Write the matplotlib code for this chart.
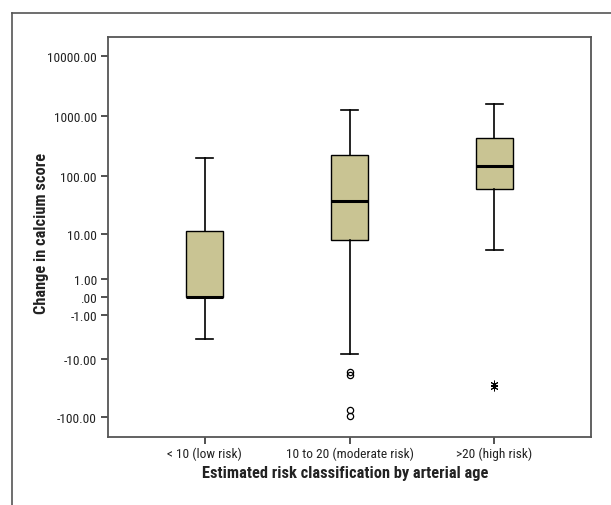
import numpy as np
import matplotlib
matplotlib.use("Agg")
import matplotlib.pyplot as plt
from matplotlib.lines import Line2D
from matplotlib import font_manager
import matplotlib.patheffects as pe

# ---- data ----
categories = ["< 10 (low risk)", "10 to 20 (moderate risk)", ">20 (high risk)"]
whisker_low = [-4.0, -8.0, 5.0]
q1 = [0.0, 7.9, 61.0]
median = [0.0, 38.0, 147.0]
q3 = [11.5, 228.0, 437.0]
whisker_high = [205.0, 1300.0, 1630.0]
outliers = [[], [-17.0, -19.0, -75.0, -96.0], []]
extremes = [[], [], [-27.0, -31.0]]
ytick_values = [10000, 1000, 100, 10, 1, 0, -1, -10, -100]
ytick_labels = ["10000.00", "1000.00", "100.00", "10.00", "1.00", ".00", "-1.00", "-10.00", "-100.00"]

# ---- font selection: a narrow family, preferably with a bold face ----
def _w(w):
    if isinstance(w, str):
        return font_manager.weight_dict.get(w, 400)
    return w

fams = {}
for f in font_manager.fontManager.ttflist:
    if "Narrow" in f.name or "Condensed" in f.name:
        fams.setdefault(f.name, set()).add(_w(f.weight))
preferred = ["Liberation Sans Narrow", "Arial Narrow", "Roboto Condensed",
             "Open Sans Condensed", "Noto Sans Condensed", "Archivo Narrow"]
bold_ok = [n for n in sorted(fams) if any(w >= 600 for w in fams[n])]
fam, scale, fake_bold = "Liberation Sans", 0.86, False
for n in preferred:
    if n in fams:
        fam, scale, fake_bold = n, 1.0, not any(w >= 600 for w in fams[n])
        break
else:
    if bold_ok:
        fam, scale, fake_bold = bold_ok[0], 1.0, False
    elif fams:
        fam, scale, fake_bold = sorted(fams)[0], 1.0, True
plt.rcParams['font.family'] = [fam, 'DejaVu Sans']

def fwd(x):
    x = np.asarray(x, dtype=float)
    return np.sign(x) * np.log10(1 + np.abs(x))

def inv(y):
    y = np.asarray(y, dtype=float)
    return np.sign(y) * (10 ** np.abs(y) - 1)

fig = plt.figure(figsize=(6.11, 5.06), dpi=100)
ax = fig.add_axes([108/611, 1 - 438/506, 483/611, 400.5/506])
ax.set_yscale('function', functions=(fwd, inv))

positions = [1, 2, 3]
stats = []
for i in range(3):
    stats.append(dict(med=median[i], q1=q1[i], q3=q3[i],
                      whislo=whisker_low[i], whishi=whisker_high[i],
                      fliers=outliers[i]))

ax.bxp(stats, positions=positions, widths=0.25, patch_artist=True,
       boxprops=dict(facecolor="#C9C493", edgecolor="black", linewidth=1.0),
       medianprops=dict(color="black", linewidth=2.2),
       whiskerprops=dict(color="black", linewidth=1.2),
       capprops=dict(color="black", linewidth=1.2),
       capwidths=0.12,
       flierprops=dict(marker="o", markerfacecolor="none", markeredgecolor="black",
                       markersize=4.5, markeredgewidth=0.9, linestyle="none"))

for i, ex in enumerate(extremes):
    if ex:
        ax.plot([positions[i]] * len(ex), ex, linestyle="none",
                marker=(6, 2, 0), markersize=5.5, markeredgecolor="black",
                markeredgewidth=0.7)

ax.set_xlim(1/3, 11/3)
ax.set_ylim(inv(-2.332), inv(4.33))
ax.set_yticks(ytick_values)
ax.set_yticklabels(ytick_labels)
ax.yaxis.set_minor_locator(matplotlib.ticker.NullLocator())
ax.set_xticks(positions)
ax.set_xticklabels(categories)

ax.tick_params(axis='both', direction='out', length=5, width=1.2, color="#333333",
               labelsize=9.6 * scale, labelcolor="#222222")
ax.tick_params(axis='x', pad=2)
ax.tick_params(axis='y', pad=3)
for s in ax.spines.values():
    s.set_color("#555555")
    s.set_linewidth(1.3)

effects = [pe.withStroke(linewidth=0.9, foreground="#222222")] if fake_bold else None
yl = ax.set_ylabel("Change in calcium score", fontsize=11.8 * scale, fontweight="bold",
                   color="#222222", va="center")
ax.yaxis.set_label_coords((42 - 108) / 483, 0.51)
xl = ax.set_xlabel("Estimated risk classification by arterial age", fontsize=11.8 * scale,
                   fontweight="bold", color="#222222", va="center")
ax.xaxis.set_label_coords((345 - 108) / 483, (438 - 474) / 400.5)
if effects:
    yl.set_path_effects(effects)
    xl.set_path_effects(effects)

# outer frame
fig.add_artist(Line2D([11.5/611, 11.5/611], [0, 1 - 13.5/506], transform=fig.transFigure,
                      color="#555555", linewidth=1.2))
fig.add_artist(Line2D([11.5/611, 1], [1 - 13.5/506, 1 - 13.5/506], transform=fig.transFigure,
                      color="#555555", linewidth=1.2))

fig.savefig("out.png", dpi=100)
